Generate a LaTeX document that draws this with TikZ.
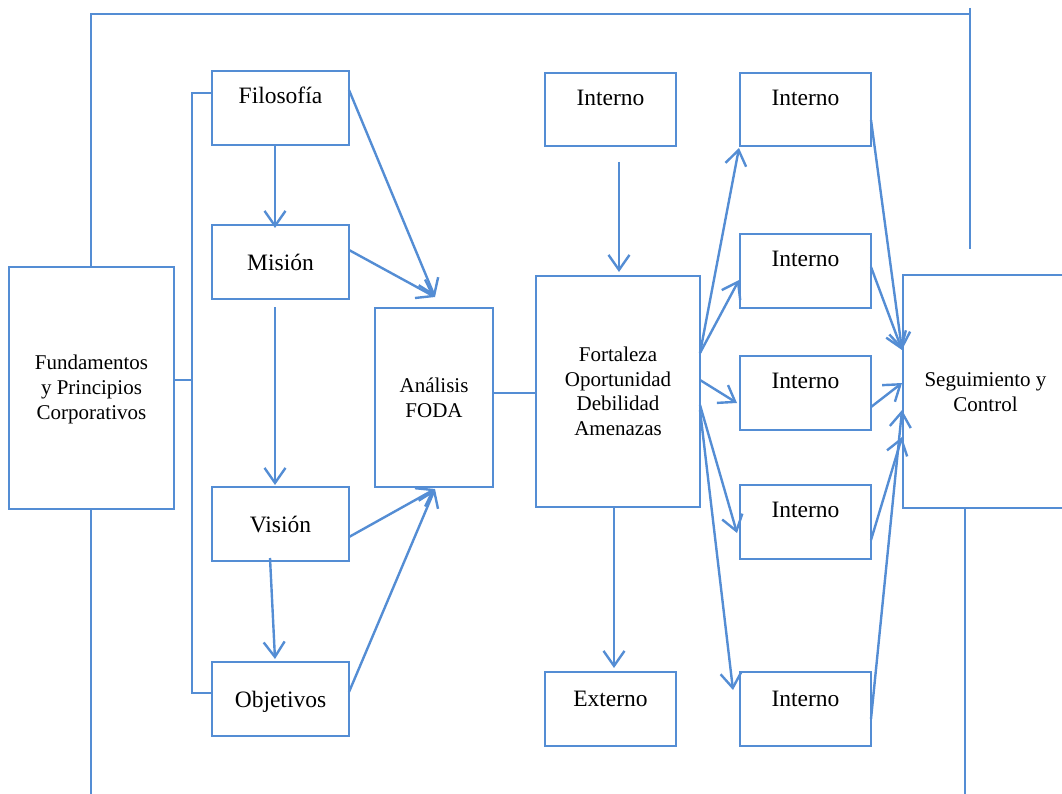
\documentclass[tikz,border=0pt]{standalone}
\usepackage{fontspec}
\setmainfont{Liberation Serif}
\usetikzlibrary{arrows.meta,calc}
\definecolor{lineblue}{RGB}{84,141,212}
\begin{document}
\begin{tikzpicture}[x=1pt,y=-1pt,
  box/.style={draw=lineblue,line width=2.2pt,inner sep=0pt,outer sep=0pt,fill=white},
  lbl/.style={anchor=base,inner sep=0pt,font=\fontsize{23.5}{28}\selectfont},
  slbl/.style={anchor=base,inner sep=0pt,font=\fontsize{21}{25}\selectfont},
  arr/.style={draw=lineblue,line width=2.4pt,-{Straight Barb[length=15pt,width=21pt]}},
  link/.style={draw=lineblue,line width=2pt}]
\useasboundingbox (0,0) rectangle (1062,794);
\clip (0,0) rectangle (1062,794);

% boxes
\node[box,minimum width=165pt,minimum height=242pt] (fund) at (91.5,388) {};
\node[box,minimum width=137pt,minimum height=74pt] (filo) at (280.5,108) {};
\node[box,minimum width=137pt,minimum height=74pt] (mision) at (280.5,262) {};
\node[box,minimum width=137pt,minimum height=74pt] (vision) at (280.5,524) {};
\node[box,minimum width=137pt,minimum height=74pt] (obj) at (280.5,699) {};
\node[box,minimum width=118pt,minimum height=179pt] (foda) at (434,397.5) {};
\node[box,minimum width=164pt,minimum height=231pt] (forta) at (618,391.5) {};
\node[box,minimum width=131pt,minimum height=73pt] (intc) at (610.5,109.5) {};
\node[box,minimum width=131pt,minimum height=74pt] (ext) at (610.5,709) {};
\node[box,minimum width=131pt,minimum height=73pt] (in1) at (805.5,109.5) {};
\node[box,minimum width=131pt,minimum height=74pt] (in2) at (805.5,271) {};
\node[box,minimum width=131pt,minimum height=74pt] (in3) at (805.5,393) {};
\node[box,minimum width=131pt,minimum height=74pt] (in4) at (805.5,522) {};
\node[box,minimum width=131pt,minimum height=74pt] (in5) at (805.5,709) {};
\node[box,minimum width=165pt,minimum height=233pt] (seg) at (985.5,391.5) {};

% texts
\node[slbl] (fund-a) at (91.5,369) {Fundamentos};
\node[slbl] (fund-b) at (91.5,394) {y Principios};
\node[slbl] (fund-c) at (91.5,419) {Corporativos};
\node[lbl] (filo-t) at (280.5,103.5) {Filosofía};
\node[lbl] (mision-t) at (280.5,270.7) {Misión};
\node[lbl] (vision-t) at (280.5,532.7) {Visión};
\node[lbl] (obj-t) at (280.5,707.7) {Objetivos};
\node[slbl] (foda-a) at (434,392.7) {Análisis};
\node[slbl] (foda-b) at (434,417.7) {FODA};
\node[slbl] (forta-a) at (618,361.7) {Fortaleza};
\node[slbl] (forta-b) at (618,386.7) {Oportunidad};
\node[slbl] (forta-c) at (618,410.7) {Debilidad};
\node[slbl] (forta-d) at (618,435.7) {Amenazas};
\node[lbl] (intc-t) at (610.5,106) {Interno};
\node[lbl] (ext-t) at (610.5,706) {Externo};
\node[lbl] (in1-t) at (805.5,106) {Interno};
\node[lbl] (in2-t) at (805.5,266.7) {Interno};
\node[lbl] (in3-t) at (805.5,388) {Interno};
\node[lbl] (in4-t) at (805.5,517) {Interno};
\node[lbl] (in5-t) at (805.5,706) {Interno};
\node[slbl] (seg-a) at (985.5,386.7) {Seguimiento y};
\node[slbl] (seg-b) at (985.5,411.7) {Control};

% outer frame
\coordinate (topR) at (970,14);
\coordinate (topRup) at (970,8);
\coordinate (topRend) at (970,249);
\coordinate (botL) at (91,794);
\coordinate (botR) at (965,794);
\draw[link] ($(fund.north)+(-0.5,0)$) |- (topR);
\draw[link] (topRup) -- (topRend);
\draw[link] ($(fund.south)+(-0.5,0)$) -- (botL);
\draw[link] ($(seg.south)+(-20.5,0)$) -- (botR);

% bracket joining the four statements
\coordinate (brTop) at (192,93);
\coordinate (brBot) at (192,693);
\draw[link] ($(filo.north west)+(0,22)$) -- (brTop) -- (brBot) -- ($(obj.north west)+(0,31)$);
\draw[link] ($(fund.east)+(0,-8)$) coordinate (fj) -- (fj -| brTop);
\draw[link] ($(foda.east)+(0,-4.5)$) -- ($(forta.west)+(0,1.5)$);

% left column arrows
\draw[arr] ($(filo.south)+(-5.5,0)$) -- ($(mision.north)+(-5.5,3)$);
\draw[arr] ($(mision.south)+(-5.5,8)$) -- ($(vision.north)+(-5.5,-2)$);
\draw[arr] ($(vision.south)+(-10.5,-3)$) -- ($(obj.north)+(-5.5,-3)$);
\draw[arr] ($(filo.north east)+(0,19)$) -- ($(foda.north)+(1,-11)$);
\draw[arr] ($(mision.north east)+(0,25)$) -- ($(foda.north)+(1,-11)$);
\draw[arr] ($(vision.north east)+(0,50)$) -- ($(foda.south)+(1,2)$);
\draw[arr] ($(obj.north east)+(0,30)$) -- ($(foda.south)+(1,2)$);

% centre arrows
\draw[arr] ($(intc.south)+(8.5,16)$) -- ($(forta.north)+(1,-4)$);
\draw[arr] ($(forta.south)+(-4,0)$) -- ($(ext.north)+(3.5,-4)$);

% fan out to the internal boxes
\draw[arr] ($(forta.north east)+(0,77)$) -- ($(in1.south west)+(-1,2)$);
\draw[arr] ($(forta.north east)+(0,77)$) -- ($(in2.north west)+(-1,46)$);
\draw[arr] ($(forta.north east)+(0,104)$) -- ($(in3.north west)+(-3,47)$);
\draw[arr] ($(forta.north east)+(0,129)$) -- ($(in4.north west)+(-3,48)$);
\draw[arr] ($(forta.north east)+(0,134)$) -- ($(in5.north west)+(-7,18)$);

% fan in to follow-up and control
\draw[arr] ($(in1.north east)+(0,47)$) -- ($(seg.north west)+(-1,75)$);
\draw[arr] ($(in2.north east)+(0,33)$) -- ($(seg.north west)+(-1,75)$);
\draw[arr] ($(in3.north east)+(0,51)$) -- ($(seg.north west)+(-1,108)$);
\draw[arr] ($(in4.north east)+(0,55)$) -- ($(seg.north west)+(-1,162)$);
\draw[arr] ($(in5.north east)+(0,47)$) -- ($(seg.north west)+(-1,135)$);
\end{tikzpicture}
\end{document}
